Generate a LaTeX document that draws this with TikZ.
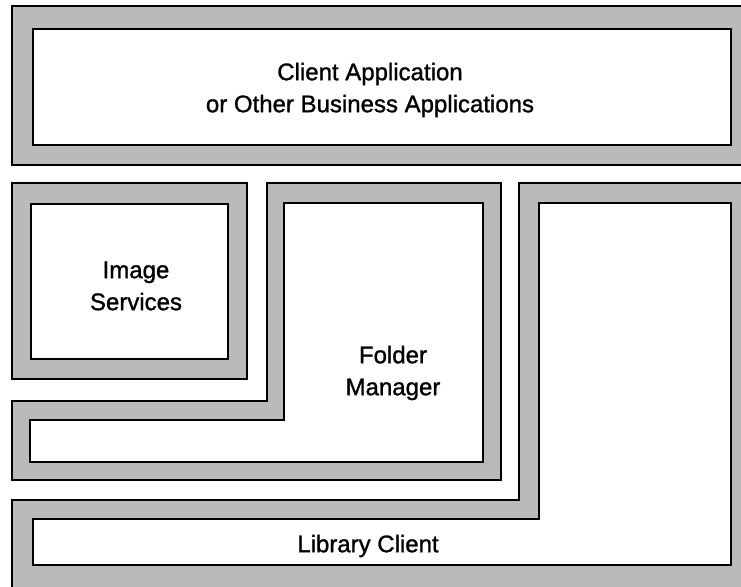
\documentclass[tikz,border=0pt]{standalone}
\usepackage{fontspec}
\setmainfont{Liberation Sans}[BoldFont=Liberation Sans, BoldFeatures={FakeBold=1.2}]
\begin{document}
\begin{tikzpicture}[x=1pt,y=-1pt,
  hatch/.style={fill=black!27, draw=black, line width=1.6pt, line join=miter},
  hole/.style={fill=white, draw=black, line width=2.4pt, line join=miter},
  lbl/.style={font=\fontsize{24}{32}\selectfont\bfseries, align=center, inner sep=0pt}]
\useasboundingbox (0,0) rectangle (741,586);
\clip (0,0) rectangle (741,586);
% Client application
\draw[hatch] (12,6) rectangle (752,165);
\draw[hole] (33,29) rectangle (731,145);
% Image services
\draw[hatch] (12,183) rectangle (247,379);
\draw[hole] (31,204) rectangle (228,359);
% Folder manager
\draw[hatch] (267,183) -- (501,183) -- (501,480) -- (12,480) -- (12,401) -- (267,401) -- cycle;
\draw[hole] (284,203) -- (483,203) -- (483,462) -- (30,462) -- (30,420) -- (284,420) -- cycle;
% Library client
\draw[hatch] (519,183) -- (752,183) -- (752,597) -- (12,597) -- (12,500) -- (519,500) -- cycle;
\draw[hole] (539,203) -- (731,203) -- (731,565) -- (33,565) -- (33,519) -- (539,519) -- cycle;
% labels
\node[lbl] (client) at (370,90) {Client Application\\or Other Business Applications};
\node[lbl] (image) at (136,286) {Image\\Services};
\node[lbl] (folder) at (393,373) {Folder\\Manager};
\node[lbl] (library) at (368,546) {Library Client};
\end{tikzpicture}
\end{document}
